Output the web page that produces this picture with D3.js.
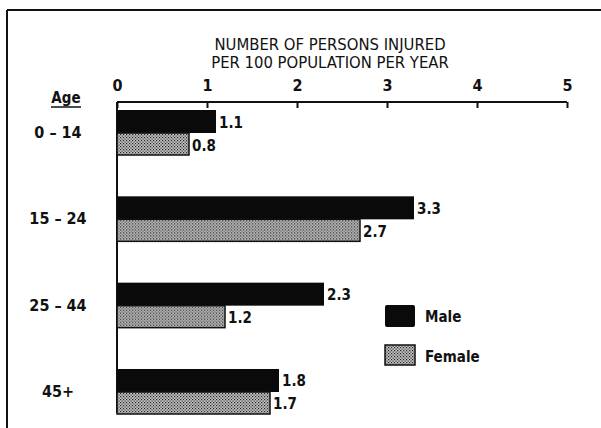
<!DOCTYPE html>
<html>
<head>
<meta charset="utf-8">
<script src="https://cdn.jsdelivr.net/npm/d3@7"></script>
<style>
  body { margin: 0; background: #fff; }
  svg text { font-family: "DejaVu Sans Condensed", "DejaVu Sans", sans-serif; fill: #111; }
</style>
</head>
<body>
<svg id="chart" width="601" height="428" viewBox="0 0 601 428"></svg>
<script>
const ageGroups = ["0-14", "15-24", "25-44", "45+"];
const maleValues = [1.1, 3.3, 2.3, 1.8];
const femaleValues = [0.8, 2.7, 1.2, 1.7];
const valueLabels = {male: ["1.1", "3.3", "2.3", "1.8"], female: ["0.8", "2.7", "1.2", "1.7"]};
const xTicks = [0, 1, 2, 3, 4, 5];
const titleLines = ["NUMBER OF PERSONS INJURED", "PER 100 POPULATION PER YEAR"];

const svg = d3.select("#chart");

// frame: top and left rules only
svg.append("line").attr("x1", 7).attr("x2", 601).attr("y1", 10).attr("y2", 10)
    .attr("stroke", "#111").attr("stroke-width", 2);
svg.append("line").attr("x1", 7).attr("x2", 7).attr("y1", 10).attr("y2", 428)
    .attr("stroke", "#111").attr("stroke-width", 2);

// stipple pattern for female bars
const pat = svg.append("defs").append("pattern")
    .attr("id", "stipple")
    .attr("width", 3).attr("height", 3)
    .attr("patternUnits", "userSpaceOnUse");
pat.append("rect").attr("width", 3).attr("height", 3).attr("fill", "#c4c4c4");
pat.append("rect").attr("width", 1.2).attr("height", 1.2).attr("fill", "#222");
pat.append("rect").attr("x", 1.5).attr("y", 1.5).attr("width", 1.2).attr("height", 1.2).attr("fill", "#333");

const x = d3.scaleLinear().domain([0, 5]).range([117, 567]);
const y = d3.scaleBand().domain(ageGroups).range([110, 415]).paddingInner(0.467).paddingOuter(0);
const barH = y.bandwidth() / 2;

// title
svg.append("g").selectAll("text")
    .data(titleLines)
    .join("text")
    .attr("x", 330)
    .attr("y", (d, i) => 50 + i * 18)
    .attr("text-anchor", "middle")
    .attr("font-size", 16.5)
    .text(d => d);

// top axis
const axis = svg.append("g")
    .attr("transform", "translate(0,102)")
    .call(d3.axisTop(x).tickValues(xTicks).tickSize(-6).tickPadding(11).tickFormat(d3.format("d")));
axis.select(".domain").attr("stroke", "#111").attr("stroke-width", 2).attr("d", `M${x(0)},0H${x(5)}`);
axis.selectAll(".tick line").attr("stroke", "#111").attr("stroke-width", 2);
axis.selectAll(".tick text").attr("font-size", 16).attr("font-weight", "bold").attr("fill", "#111");

// vertical baseline
svg.append("line")
    .attr("x1", x(0)).attr("x2", x(0)).attr("y1", 102).attr("y2", 413)
    .attr("stroke", "#111").attr("stroke-width", 2);

// Age header
svg.append("text").attr("x", 66).attr("y", 103).attr("text-anchor", "middle")
    .attr("font-size", 15).attr("font-weight", "bold").text("Age");
svg.append("line").attr("x1", 51).attr("x2", 81).attr("y1", 107).attr("y2", 107)
    .attr("stroke", "#111").attr("stroke-width", 1.5);

const rows = svg.append("g").selectAll("g")
    .data(ageGroups)
    .join("g")
    .attr("transform", d => `translate(0,${y(d)})`);

rows.append("text")
    .attr("x", 58).attr("y", barH + 5)
    .attr("text-anchor", "middle")
    .attr("font-size", 16)
    .attr("font-weight", "bold")
    .text(d => d.replace("-", " – "));

rows.append("rect")
    .attr("x", x(0)).attr("y", 0)
    .attr("width", (d, i) => x(maleValues[i]) - x(0))
    .attr("height", barH)
    .attr("fill", "#0a0a0a");

rows.append("rect")
    .attr("x", x(0)).attr("y", barH)
    .attr("width", (d, i) => x(femaleValues[i]) - x(0))
    .attr("height", barH - 1)
    .attr("fill", "url(#stipple)")
    .attr("stroke", "#111").attr("stroke-width", 1.5);

rows.append("text")
    .attr("x", (d, i) => x(maleValues[i]) + 3)
    .attr("y", barH / 2 + 6)
    .attr("font-size", 15).attr("font-weight", "bold")
    .text((d, i) => valueLabels.male[i]);

rows.append("text")
    .attr("x", (d, i) => x(femaleValues[i]) + 3)
    .attr("y", barH + barH / 2 + 6)
    .attr("font-size", 15).attr("font-weight", "bold")
    .text((d, i) => valueLabels.female[i]);

// legend
const legend = svg.append("g").attr("transform", "translate(385,305)");
legend.append("rect").attr("width", 30).attr("height", 22).attr("rx", 2).attr("fill", "#0a0a0a");
legend.append("text").attr("x", 40).attr("y", 17).attr("font-size", 15).attr("font-weight", "bold").text("Male");
legend.append("rect").attr("y", 40).attr("width", 30).attr("height", 20)
    .attr("fill", "url(#stipple)").attr("stroke", "#111").attr("stroke-width", 1.5);
legend.append("text").attr("x", 40).attr("y", 57).attr("font-size", 15).attr("font-weight", "bold").text("Female");
</script>
</body>
</html>
